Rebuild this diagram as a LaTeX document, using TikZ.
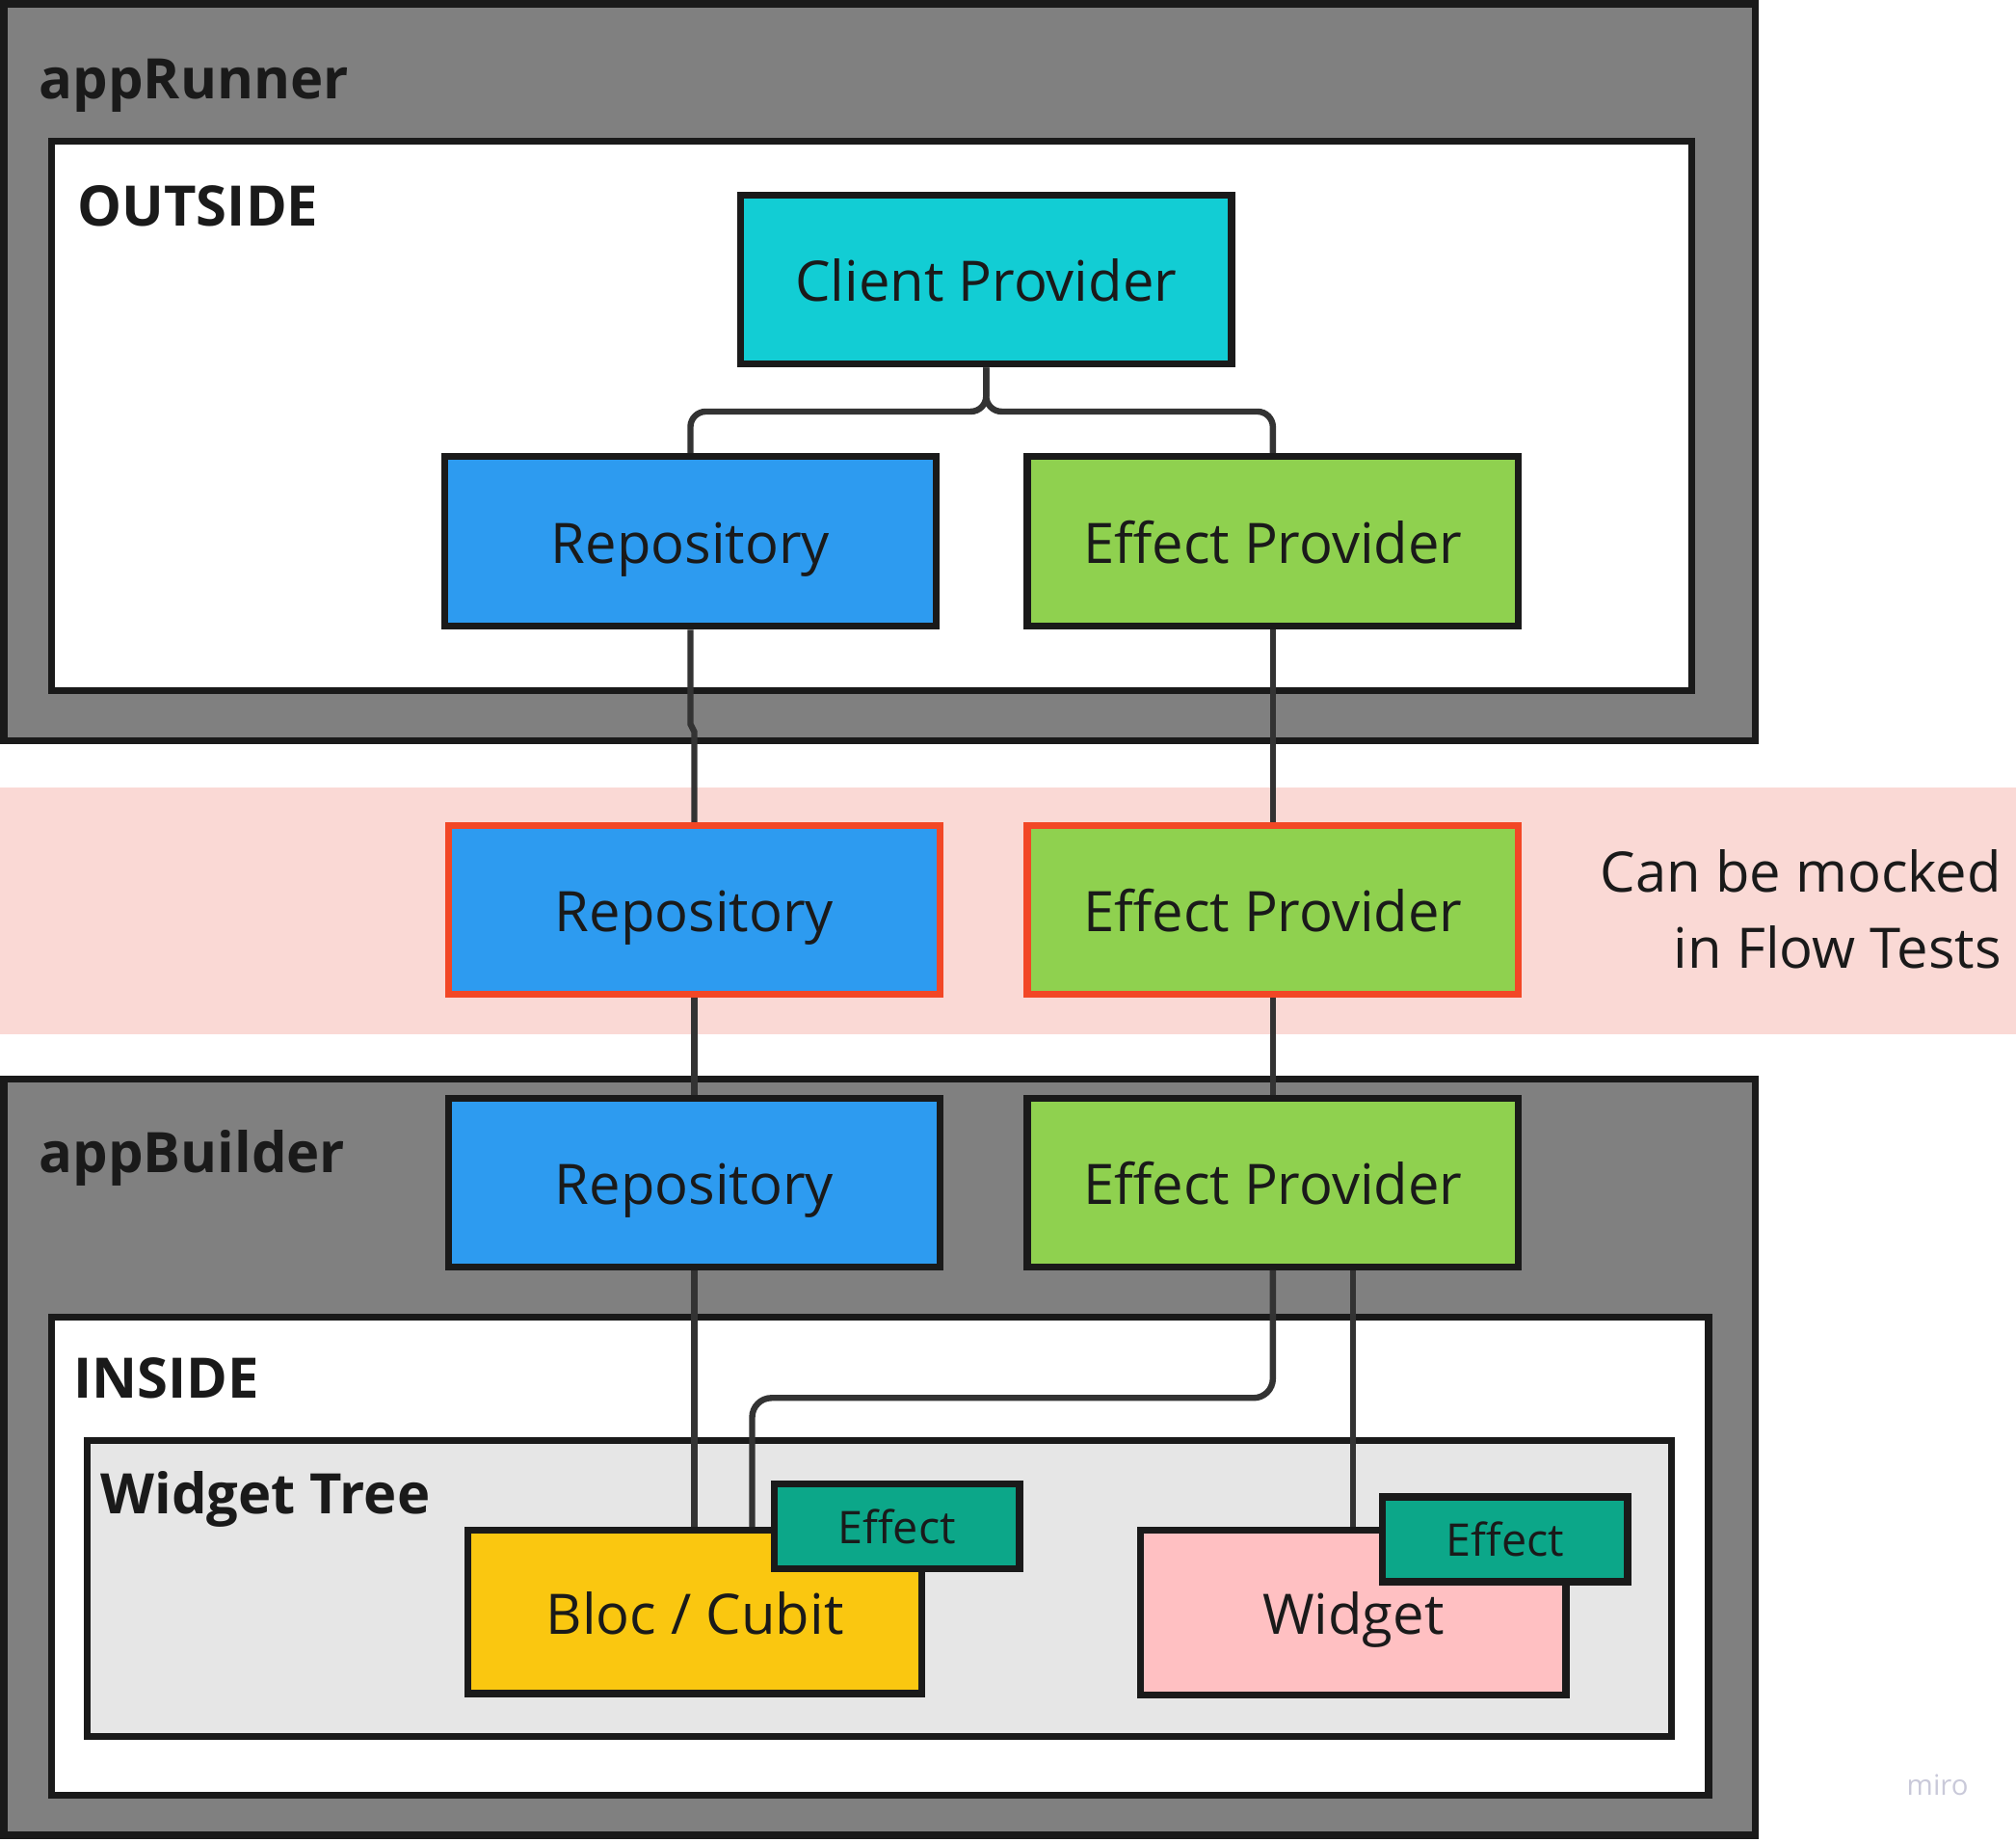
\documentclass[tikz,border=0pt]{standalone}
\usepackage{fontspec}
\setmainfont{Open Sans}
\usetikzlibrary{calc}
\definecolor{ink}{HTML}{1A1A1A}
\definecolor{wire}{HTML}{333333}
\definecolor{graybg}{HTML}{808080}
\definecolor{clientc}{HTML}{12CDD4}
\definecolor{repoc}{HTML}{2D9BF0}
\definecolor{effc}{HTML}{8FD14F}
\definecolor{mockborder}{HTML}{F24726}
\definecolor{band}{HTML}{FAD9D5}
\definecolor{treebg}{HTML}{E6E6E6}
\definecolor{blocc}{HTML}{FAC710}
\definecolor{widgetc}{HTML}{FFC0C2}
\definecolor{effectc}{HTML}{0CA789}
\definecolor{miroc}{HTML}{C9C9D9}
\newcommand\lblfont{\fontsize{21.7pt}{29pt}\selectfont}
\newcommand\hdfont{\fontsize{21.7pt}{29pt}\selectfont\bfseries}
\newcommand\smfont{\fontsize{17.5pt}{21pt}\selectfont}
\begin{document}
\begin{tikzpicture}[x=0.5pt,y=-0.5pt,
  container/.style={draw=ink, line width=2.75pt, inner sep=0pt},
  box/.style={draw=ink, line width=2.75pt, inner sep=0pt, font=\lblfont, text=ink,
              text height=17pt, text depth=0pt,
              minimum width=191pt, minimum height=65.5pt},
  mockbox/.style={box, draw=mockborder},
  effbox/.style={draw=ink, line width=2.75pt, inner sep=0pt, font=\smfont, text=ink,
              text height=13.3pt, text depth=0pt,
              fill=effectc, minimum width=95.5pt, minimum height=33pt},
  heading/.style={font=\hdfont, text=ink, anchor=base west, inner sep=0pt},
  conn/.style={draw=wire, line width=2.4pt}]
\useasboundingbox (0,0) rectangle (1568,1432);

% appRunner
\node[container, fill=graybg, minimum width=681pt, minimum height=286.5pt] (apprunner) at (684,289.5) {};
\node[heading] (apprunnerlbl) at (30,77) {appRunner};
\node[container, fill=white, minimum width=638pt, minimum height=213.5pt] (outside) at (678,323.5) {};
\node[heading] (outsidelbl) at (60,176) {OUTSIDE};

\node[box, fill=clientc] (client) at (767,217.5) {Client Provider};
\node[box, fill=repoc, minimum height=66pt] (repo1) at (537,421) {Repository};
\node[box, fill=effc, minimum height=66pt] (ep1) at (990,421) {Effect Provider};

% mock band
\node[fill=band, inner sep=0pt, minimum width=784pt, minimum height=96pt] (bandbg) at (784,708) {};
\node[mockbox, fill=repoc] (mrepo) at (540,707.5) {Repository};
\node[mockbox, fill=effc] (mep) at (990,707.5) {Effect Provider};
\node[font=\lblfont, text=ink, anchor=base east, inner sep=0pt] (mock1) at (1557,694) {Can be mocked};
\node[font=\lblfont, text=ink, anchor=base east, inner sep=0pt] (mock2) at (1557,753) {in Flow Tests};

% appBuilder
\node[container, fill=graybg, minimum width=681pt, minimum height=294pt] (appbuilder) at (684,1133) {};
\node[heading] (appbuilderlbl) at (30,912) {appBuilder};
\node[box, fill=repoc] (repo2) at (540,919.5) {Repository};
\node[box, fill=effc] (ep2) at (990,919.5) {Effect Provider};

\node[container, fill=white, minimum width=644.5pt, minimum height=186pt] (inside) at (684.5,1210) {};
\node[heading] (insidelbl) at (57,1087) {INSIDE};
\node[container, fill=treebg, minimum width=616pt, minimum height=115pt] (tree) at (684,1235) {};
\node[heading] (treelbl) at (78,1177) {Widget Tree};

\node[box, fill=blocc, minimum width=176.5pt, minimum height=63.5pt] (bloc) at (540.5,1253.5) {Bloc / Cubit};
\node[box, fill=widgetc, minimum width=165.5pt, minimum height=64pt] (widget) at (1052.5,1254) {Widget};
\node[effbox] (effbloc) at (697.5,1187) {Effect};
\node[effbox] (effwidget) at (1170.5,1197) {Effect};

\node[font=\fontsize{11pt}{13pt}\selectfont, text=miroc, inner sep=0pt] (miro) at (1507,1388) {miro};

% connectors
\coordinate (j1) at (767,320);
\draw[conn, rounded corners=6pt] (client.south) -- (j1) -| (repo1.north);
\draw[conn, rounded corners=6pt] (client.south) -- (j1) -| (ep1.north);

\coordinate (jA) at (537,563);
\coordinate (jB) at (540,569);
\draw[conn] (repo1.south) -- (jA) -- (jB) -- (mrepo.north);
\draw[conn] (ep1.south) -- (mep.north);
\draw[conn] (mrepo.south) -- (repo2.north);
\draw[conn] (mep.south) -- (ep2.north);
\draw[conn] (repo2.south) -- (repo2.south |- bloc.north);
\coordinate (jC) at (585,1087);
\draw[conn, rounded corners=7.5pt] (ep2.south) |- (jC) -- (jC |- bloc.north);
\draw[conn] (widget.north |- ep2.south) -- (widget.north);

% redraw effect boxes on top
\node[effbox] at (effbloc) {Effect};
\node[effbox] at (effwidget) {Effect};
\end{tikzpicture}
\end{document}
